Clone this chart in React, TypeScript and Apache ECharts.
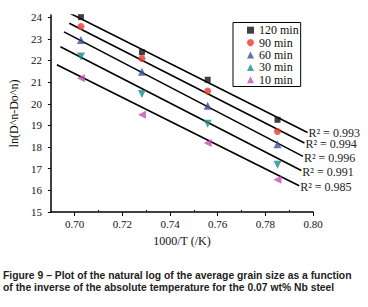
import React, { useEffect, useRef } from "react";
import * as echarts from "echarts";

const xValues = [0.7026, 0.7282, 0.7558, 0.7851];
const seriesNames = ["120 min", "90 min", "60 min", "30 min", "10 min"];
const y120 = [24.0, 22.38, 21.11, 19.26];
const y90 = [23.57, 22.09, 20.59, 18.72];
const y60 = [22.94, 21.48, 19.91, 18.13];
const y30 = [22.18, 20.45, 19.08, 17.18];
const y10 = [21.18, 19.49, 18.19, 16.49];
const seriesValues = [y120, y90, y60, y30, y10];

// fitted line endpoints
const fitX0 = [0.6971, 0.6977, 0.6955, 0.694, 0.6925];
const fitY0 = [24.23, 23.72, 23.32, 22.63, 21.8];
const fitX1 = [0.7977, 0.7964, 0.7958, 0.7951, 0.7942];
const fitY1 = [18.67, 18.19, 17.57, 16.92, 16.21];
const rSquared = ["0.993", "0.994", "0.996", "0.991", "0.985"];
const rLabelDy = [0, 1, 2, 2, 1];

const yTicks = [15, 16, 17, 18, 19, 20, 21, 22, 23, 24];
const xMajorTicks = [0.7, 0.72, 0.74, 0.76, 0.78, 0.8];
const xMinorTicks = [0.71, 0.73, 0.75, 0.77, 0.79];

const colors = ["#111111", "#e8392c", "#3750a0", "#1a8c8c", "#c24fb3"];
const symbols = ["rect", "circle", "triangle", "triangle", "triangle"];
const symbolRotates = [0, 0, 0, 180, 90];
const symbolSizes = [6, 7, 8, 8, 8];

const captionLines = [
  "Figure 9 \u2013 Plot of the natural log of the average grain size as a function",
  "of the inverse of the absolute temperature for the 0.07 wt% Nb steel",
];

const SERIF = "Liberation Serif";
const CAPTION_FONT = "Liberation Sans";

function measure(text: string, font: string): number {
  const c = document.createElement("canvas");
  const ctx = c.getContext("2d");
  if (!ctx) return text.length * 5.5;
  ctx.font = font;
  return ctx.measureText(text).width;
}

export default function App() {
  const ref = useRef<HTMLDivElement>(null);
  useEffect(() => {
    if (!ref.current) return;
    const chart = echarts.init(ref.current, null, { renderer: "svg" });
    const w1 = measure(captionLines[0], "bold 11px " + CAPTION_FONT);
    const capScale = Math.min(1, 349 / w1);
    const fitSeries = seriesNames.map((n, i) => ({
      type: "line",
      name: "fit" + i,
      data: [
        [fitX0[i], fitY0[i]],
        [fitX1[i], fitY1[i]],
      ],
      symbol: "none",
      lineStyle: { color: "#000", width: 1.6 },
      z: 2,
      silent: true,
      endLabel: {
        show: true,
        formatter: "R\u00b2 = " + rSquared[i],
        fontFamily: SERIF,
        fontSize: 12,
        lineHeight: 11,
        color: "#222",
        distance: 1,
        offset: [0, rLabelDy[i]],
      },
    }));
    const scatterSeries = seriesNames.map((n, i) => ({
      type: "scatter",
      name: n,
      data: xValues.map((x, j) => [x, seriesValues[i][j]]),
      symbol: symbols[i],
      symbolRotate: symbolRotates[i],
      symbolSize: symbolSizes[i],
      itemStyle: { color: colors[i] },
      z: 3,
    }));
    chart.setOption({
      animation: false,
      backgroundColor: "#fff",
      textStyle: { fontFamily: SERIF },
      grid: { left: 32, right: 55, top: 15, bottom: 95 },
      legend: {
        data: seriesNames,
        orient: "vertical",
        left: 233,
        top: 22.5,
        padding: [1.5, 2, 0.5, 14],
        itemWidth: 7,
        itemHeight: 7,
        itemGap: 0,
        itemTextGap: 11,
        borderColor: "#000",
        borderWidth: 1,
        textStyle: { fontFamily: SERIF, fontSize: 12, color: "#111", lineHeight: 12.4 },
      },
      xAxis: [
        {
          type: "value",
          min: 0.69,
          max: 0.8,
          interval: 0.01,
          name: "1000/T (/K)",
          nameLocation: "middle",
          nameGap: 23,
          nameTextStyle: { fontFamily: SERIF, fontSize: 12, color: "#111" },
          splitLine: { show: false },
          axisLine: { lineStyle: { color: "#000", width: 1.5 } },
          axisTick: { show: true, length: 4, customValues: xMajorTicks, lineStyle: { color: "#000" } },
          axisLabel: {
            customValues: xMajorTicks,
            formatter: (v: number) => v.toFixed(2),
            fontFamily: SERIF,
            fontSize: 11,
            color: "#111",
            margin: 6,
          },
        },
        {
          type: "value",
          min: 0.69,
          max: 0.8,
          interval: 0.01,
          position: "bottom",
          splitLine: { show: false },
          axisLine: { show: false },
          axisTick: { show: true, inside: true, length: 2, customValues: xMinorTicks, lineStyle: { color: "#000" } },
          axisLabel: { show: false },
        },
      ],
      yAxis: {
        type: "value",
        min: 15,
        max: 24.1,
        interval: 1,
        name: "ln(D^n-Do^n)",
        nameLocation: "middle",
        nameGap: 18,
        nameTextStyle: { fontFamily: SERIF, fontSize: 12, color: "#111" },
        splitLine: { show: false },
        axisLine: { show: true, lineStyle: { color: "#000", width: 1.5 } },
        axisTick: { show: true, length: 3, customValues: yTicks, lineStyle: { color: "#000" } },
        axisLabel: {
          customValues: yTicks,
          fontFamily: SERIF,
          fontSize: 11,
          color: "#111",
          margin: 9,
        },
      },
      graphic: captionLines.map((t, i) => ({
        type: "text",
        x: 3,
        y: 269 + i * 12.3,
        scaleX: capScale,
        style: {
          text: t,
          fontFamily: CAPTION_FONT,
          fontWeight: "bold",
          fontSize: 11,
          fill: "#222",
        },
      })),
      series: [...fitSeries, ...scatterSeries],
    });
    return () => chart.dispose();
  }, []);
  return (
    <div
      ref={ref}
      style={{ position: "fixed", left: 0, top: 0, width: 368, height: 307 }}
    />
  );
}
